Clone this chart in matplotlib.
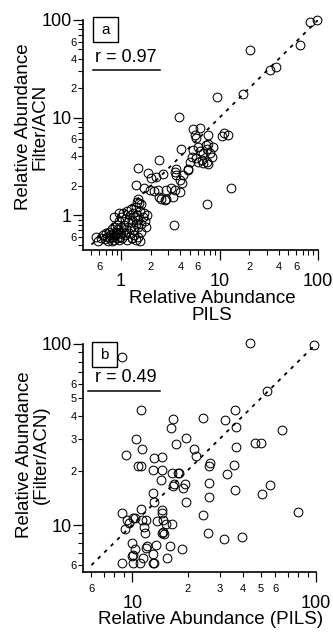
import numpy as np
import matplotlib
matplotlib.use("Agg")
import matplotlib.pyplot as plt
from matplotlib.ticker import LogLocator, FuncFormatter
from matplotlib.patches import Rectangle
from matplotlib.lines import Line2D

plt.rcParams["font.family"] = ["Liberation Sans", "DejaVu Sans"]

# ---- panel a : PILS vs Filter/ACN ----
pils_a = [98, 83, 65, 20.2, 32.4, 37.1, 17.5, 9.5, 3.87, 5.4, 6.3, 5.7, 5.6, 7.7, 10.5, 11.1, 12.3,
          4.1, 2.4, 1.47, 3.58, 4.79,
          5.4, 6.3, 7.3, 7.5, 8.6, 6.8, 8.0, 5.3, 5.8, 6.6, 7.4, 7.7, 5.0, 6.8, 6.1, 7.7, 8.3, 6.0,
          1.86, 2.27, 2.65, 3.5, 3.64, 4.25, 4.8, 3.94, 4.2, 2.0,
          1.41, 1.72, 1.95, 2.18, 2.36, 2.87, 3.23, 3.5, 3.94,
          2.45, 2.55, 2.87, 3.36, 2.76, 1.47, 1.53,
          13.0, 7.5, 3.42,
          0.55, 0.58, 0.62, 0.65, 0.68, 0.70, 0.72, 0.74, 0.75, 0.77, 0.78, 0.80, 0.80, 0.82, 0.83,
          0.85, 0.86, 0.87, 0.88, 0.90, 0.90, 0.92, 0.93, 0.95, 0.96, 0.97, 0.98, 1.0, 1.0, 1.02,
          1.05, 1.05, 1.08, 1.1, 1.1, 1.12, 1.15, 1.15, 1.18, 1.2, 1.22, 1.25, 1.25, 1.28, 1.3,
          1.32, 1.35, 1.35, 1.38, 1.4, 1.4, 1.42, 1.45, 1.48, 1.5, 1.5, 1.55, 1.58, 1.6, 1.65,
          1.7, 1.75, 1.8, 1.85, 0.85, 0.95, 1.6, 1.45, 1.3, 1.55]
filt_a = [99, 96, 56, 49, 30.7, 33.2, 17.3, 16.1, 10.2, 7.6, 7.9, 6.2, 6.7, 6.7, 6.5, 7.0, 6.7,
          4.75, 3.65, 3.05, 2.94, 2.94,
          4.64, 4.53, 5.2, 4.72, 5.0, 4.3, 4.35, 3.96, 3.82, 3.66, 3.52, 3.33, 3.52, 3.39, 5.0, 5.4, 3.96, 3.5,
          2.68, 2.47, 2.63, 2.78, 2.57, 2.57, 2.89, 2.29, 2.14, 2.4,
          2.03, 1.88, 1.80, 1.78, 1.80, 1.80, 1.88, 1.82, 1.73,
          1.54, 1.48, 1.48, 1.54, 1.43, 1.48, 1.32,
          1.92, 1.29, 0.80,
          0.60, 0.55, 0.58, 0.62, 0.57, 0.65, 0.60, 0.55, 0.68, 0.58, 0.63, 0.55, 0.72, 0.60, 0.66,
          0.56, 0.75, 0.62, 0.68, 0.58, 0.80, 0.64, 0.72, 0.56, 0.88, 0.66, 0.60, 0.75, 0.95, 0.58,
          0.68, 1.05, 0.80, 0.62, 0.92, 0.72, 1.1, 0.56, 0.85, 0.65, 1.0, 0.76, 1.15, 0.58, 0.90,
          1.05, 0.70, 0.62, 0.95, 0.82, 1.2, 0.56, 1.0, 0.75, 0.90, 0.60, 1.1, 0.82, 0.68, 0.95,
          1.05, 0.88, 0.75, 1.0, 0.95, 1.05, 1.3, 1.35, 0.58, 0.55]
diag_a = [0.5, 100]

# ---- panel b : PILS vs (Filter/ACN) ----
pils_b = [44, 98, 8.8, 54, 11.1, 16.6, 16.3, 24.2, 31.9, 36.1, 36.5, 65, 19.5, 10.5, 17.3, 11.3,
          21.6, 36.5, 46.8, 50.5, 9.3, 13.1, 14.5, 22.2,
          10.8, 11.2, 12.9, 14.6, 16.4, 17.7, 18.0, 26.6, 26.2, 35.8, 33.0, 14.3, 16.6, 16.9, 19.4,
          18.9, 26.2, 36.1, 56.3, 50.9, 26.1, 12.9, 13.2, 19.5, 80, 8.8, 11.1, 14.5, 14.6, 24.2,
          10.1, 10.3, 9.4, 9.6, 11.9, 11.3, 13.7, 14.8, 15.2, 16.4, 9.1, 11.6, 11.7, 14.8, 14.9,
          14.6, 25.8, 31.5, 39.7, 10.0, 10.3, 10.1, 10.0, 12.1, 13.5, 11.9, 12.9, 16.1, 18.6, 15.5,
          11.5, 8.8, 10.1, 11.0, 12.9, 13.2]
filt_b = [101, 99, 85, 55, 43, 38.6, 34.2, 39.2, 37.9, 43, 34.7, 33.5, 30.3, 29.9, 28.0, 26.3,
          26.3, 27.0, 28.5, 28.5, 24.4, 23.5, 23.8, 24.0,
          21.1, 21.1, 20.1, 20.1, 19.5, 19.5, 19.3, 21.9, 21.2, 21.4, 19.1, 17.7, 16.5, 16.8, 16.8,
          16.1, 17.0, 15.6, 16.6, 14.8, 14.2, 15.0, 13.4, 13.4, 11.8, 11.7, 12.3, 12.1, 11.6, 11.3,
          11.0, 11.0, 10.6, 10.3, 10.7, 10.6, 10.5, 10.6, 10.1, 10.1, 9.5, 9.7, 9.0, 9.2, 8.9,
          9.0, 9.0, 8.4, 8.6, 8.0, 7.4, 6.8, 6.7, 7.66, 7.8, 7.5, 6.9, 7.66, 7.4, 6.6,
          6.55, 6.17, 6.17, 6.17, 6.17, 6.17]
diag_b = [6, 100]

W, H = 333, 634
fig = plt.figure(figsize=(W / 100, H / 100), dpi=100)


def fx(px):
    return px / W


def fy(py):
    return 1 - py / H


def minor_fmt(keep):
    def f(v, pos):
        m = v / 10 ** np.floor(np.log10(v) + 1e-9)
        d = int(round(m))
        return str(d) if (d in keep and abs(m - d) < 0.01) else ""
    return FuncFormatter(f)


def style_axes(ax, xkeep, ykeep):
    ax.set_xscale("log")
    ax.set_yscale("log")
    for s in ["top", "right"]:
        ax.spines[s].set_visible(False)
    for s in ["left", "bottom"]:
        ax.spines[s].set_linewidth(1.2)
    for axis in (ax.xaxis, ax.yaxis):
        axis.set_major_locator(LogLocator(base=10))
        axis.set_minor_locator(LogLocator(base=10, subs=np.arange(2, 10)))
        axis.set_major_formatter(FuncFormatter(lambda v, p: f"{v:g}"))
    ax.xaxis.set_minor_formatter(minor_fmt(xkeep))
    ax.yaxis.set_minor_formatter(minor_fmt(ykeep))
    ax.tick_params(which="major", direction="out", length=7, width=0.9, labelsize=13)
    ax.tick_params(which="minor", direction="out", length=3.6, width=0.8, labelsize=8)
    ax.tick_params(axis="x", which="major", pad=9.5)
    ax.tick_params(axis="x", which="minor", pad=5)
    ax.tick_params(axis="y", which="major", pad=1)
    ax.tick_params(axis="y", which="minor", pad=1)


# panel a
ax1 = fig.add_axes([fx(83), fy(250), fx(318) - fx(83), fy(20) - fy(250)])
ax1.plot(diag_a, diag_a, color="black", lw=1.3, ls=(0, (2, 3)), zorder=1)
ax1.plot(pils_a, filt_a, ls="none", marker="o", ms=6.3, mfc="none", mec="black", mew=0.75,
         clip_on=False, zorder=2)
ax1.set_xlim(0.41, 100)
ax1.set_ylim(0.44, 100)
style_axes(ax1, [2, 4, 6], [2, 4, 6])

# panel b
ax2 = fig.add_axes([fx(83), fy(572), fx(316) - fx(83), fy(344) - fy(572)])
ax2.plot(diag_b, diag_b, color="black", lw=1.3, ls=(0, (2, 3)), zorder=1)
ax2.plot(pils_b, filt_b, ls="none", marker="o", ms=6.3, mfc="none", mec="black", mew=0.75,
         clip_on=False, zorder=2)
ax2.set_xlim(5.4, 100)
ax2.set_ylim(5.5, 100)
style_axes(ax2, [2, 3, 4, 5, 6], [2, 3, 4, 5, 6])

# axis titles
fig.text(fx(32), fy(127), "Relative Abundance\nFilter/ACN", rotation=90, ha="center", va="center",
         multialignment="center", fontsize=13.5, linespacing=0.95)
fig.text(fx(212), fy(307), "Relative Abundance\nPILS", ha="center", va="center",
         multialignment="center", fontsize=13.5, linespacing=0.95)
fig.text(fx(33), fy(455), "Relative Abundance\n(Filter/ACN)", rotation=90, ha="center", va="center",
         multialignment="center", fontsize=13.5, linespacing=0.95)
fig.text(fx(211), fy(620), "Relative Abundance (PILS)", ha="center", va="center", fontsize=13.5)

# panel letters in boxes, correlation text with underline
for (bx, by, letter, rtxt, ry, ux0) in [(93, 17, "a", "r = 0.97", 57, 93),
                                        (92, 342, "b", "r = 0.49", 378, 88)]:
    fig.add_artist(Rectangle((fx(bx), fy(by + 25)), fx(25), 25 / H, transform=fig.transFigure,
                             facecolor="white", edgecolor="black", lw=1.0, zorder=5))
    fig.text(fx(bx + 12.5), fy(by + 13), letter, ha="center", va="center", fontsize=11, zorder=6)
    fig.text(fx(126), fy(ry), rtxt, ha="center", va="center", fontsize=13)
    fig.add_artist(Line2D([fx(ux0), fx(160)], [fy(ry + 13), fy(ry + 13)], transform=fig.transFigure,
                          color="black", lw=1.1))

fig.savefig("out.png", dpi=100)
